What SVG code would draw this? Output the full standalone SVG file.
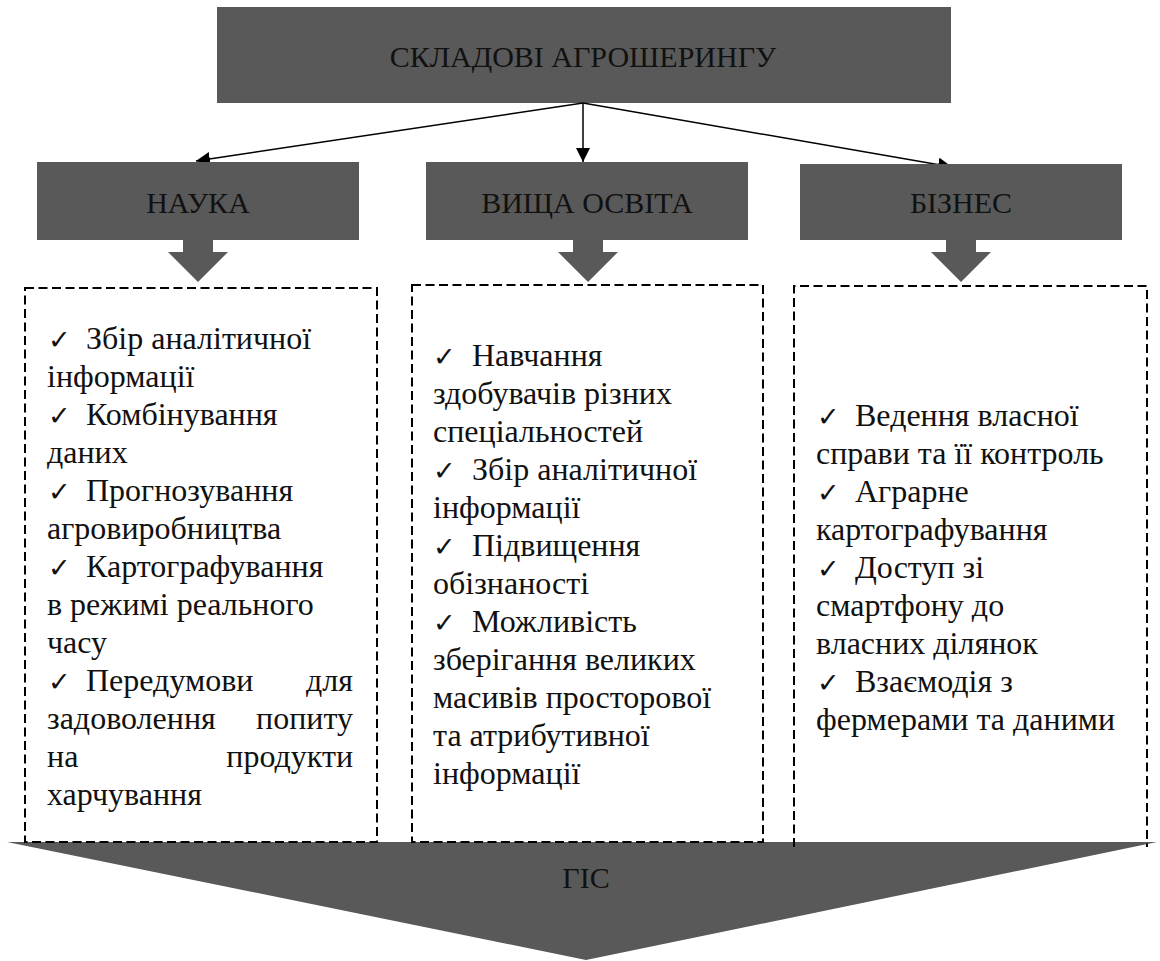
<svg xmlns="http://www.w3.org/2000/svg" width="1160" height="961" viewBox="0 0 1160 961">
<style>
.box{fill:#595959;}
.hd{font-size:30px;fill:#111;text-anchor:middle;}
.tx{font-size:32px;fill:#111;}
.ck{font-size:27px;fill:#111;}
.end{text-anchor:end;}
.dash{fill:none;stroke:#000;stroke-width:2;stroke-dasharray:9 4.5;}
.con{stroke:#000;stroke-width:1.5;fill:none;marker-end:url(#ah);}
</style>
<defs>
<marker id="ah" viewBox="0 0 10 10" refX="10" refY="5" markerWidth="14" markerHeight="14" markerUnits="userSpaceOnUse" orient="auto">
<path d="M0,0 L10,5 L0,10 Z" fill="#000"/>
</marker>
</defs>
<rect width="1160" height="961" fill="#fff"/>
<g font-family="Liberation Serif, DejaVu Serif, serif">

<g id="gis">
<polygon class="box" points="7,842 1157,842 586,960"/>
<text class="hd" x="586" y="888">ГІС</text>
</g>

<g id="top">
<rect class="box" x="217" y="7" width="734" height="96"/>
<text class="hd" x="583" y="67" font-size="31">СКЛАДОВІ АГРОШЕРИНГУ</text>
</g>

<g id="connectors">
<path class="con" d="M583,103 L196,161"/>
<path class="con" d="M583,103 L583,162"/>
<path class="con" d="M583,103 L952,167"/>
</g>

<g id="nauka">
<rect class="box" x="37" y="162" width="322" height="78"/>
<text class="hd" x="198" y="213">НАУКА</text>
<polygon class="box" points="183,240 213,240 213,252 228,252 198,282 168,252 183,252"/>
</g>

<g id="osvita">
<rect class="box" x="426" y="162" width="322" height="78"/>
<text class="hd" x="587" y="213">ВИЩА ОСВІТА</text>
<polygon class="box" points="573,240 603,240 603,252 618,252 588,282 558,252 573,252"/>
</g>

<g id="biznes">
<rect class="box" x="800" y="164" width="322" height="76"/>
<text class="hd" x="961" y="213">БІЗНЕС</text>
<polygon class="box" points="946,240 976,240 976,252 991,252 961,282 931,252 946,252"/>
</g>

<g id="list-nauka">
<rect class="dash" x="25" y="288" width="352" height="554"/>
<text class="ck" x="48" y="349">✓</text><text class="tx" x="86" y="349">Збір аналітичної</text>
<text class="tx" x="47" y="387">інформації</text>
<text class="ck" x="48" y="425">✓</text><text class="tx" x="86" y="425">Комбінування</text>
<text class="tx" x="47" y="463">даних</text>
<text class="ck" x="48" y="501">✓</text><text class="tx" x="86" y="501">Прогнозування</text>
<text class="tx" x="47" y="539">агровиробництва</text>
<text class="ck" x="48" y="577">✓</text><text class="tx" x="86" y="577">Картографування</text>
<text class="tx" x="47" y="615">в режимі реального</text>
<text class="tx" x="47" y="653">часу</text>
<text class="ck" x="48" y="691">✓</text><text class="tx" x="86" y="691">Передумови</text><text class="tx end" x="353" y="691">для</text>
<text class="tx" x="47" y="729">задоволення</text><text class="tx end" x="353" y="729">попиту</text>
<text class="tx" x="47" y="767">на</text><text class="tx end" x="353" y="767">продукти</text>
<text class="tx" x="47" y="805">харчування</text>
</g>

<g id="list-osvita">
<rect class="dash" x="412" y="285" width="351" height="557"/>
<text class="ck" x="433" y="366">✓</text><text class="tx" x="472" y="366">Навчання</text>
<text class="tx" x="433" y="404">здобувачів різних</text>
<text class="tx" x="433" y="442">спеціальностей</text>
<text class="ck" x="433" y="480">✓</text><text class="tx" x="472" y="480">Збір аналітичної</text>
<text class="tx" x="433" y="518">інформації</text>
<text class="ck" x="433" y="556">✓</text><text class="tx" x="472" y="556">Підвищення</text>
<text class="tx" x="433" y="594">обізнаності</text>
<text class="ck" x="433" y="632">✓</text><text class="tx" x="472" y="632">Можливість</text>
<text class="tx" x="433" y="670">зберігання великих</text>
<text class="tx" x="433" y="708">масивів просторової</text>
<text class="tx" x="433" y="746">та атрибутивної</text>
<text class="tx" x="433" y="784">інформації</text>
</g>

<g id="list-biznes">
<path class="dash" d="M794,847 L794,286 L1147,286 L1147,847"/>
<text class="ck" x="817" y="426">✓</text><text class="tx" x="855" y="426">Ведення власної</text>
<text class="tx" x="816" y="464">справи та її контроль</text>
<text class="ck" x="817" y="502">✓</text><text class="tx" x="855" y="502">Аграрне</text>
<text class="tx" x="816" y="540">картографування</text>
<text class="ck" x="817" y="578">✓</text><text class="tx" x="855" y="578">Доступ зі</text>
<text class="tx" x="816" y="616">смартфону до</text>
<text class="tx" x="816" y="654">власних ділянок</text>
<text class="ck" x="817" y="692">✓</text><text class="tx" x="855" y="692">Взаємодія з</text>
<text class="tx" x="816" y="730">фермерами та даними</text>
</g>
</g>
</svg>
